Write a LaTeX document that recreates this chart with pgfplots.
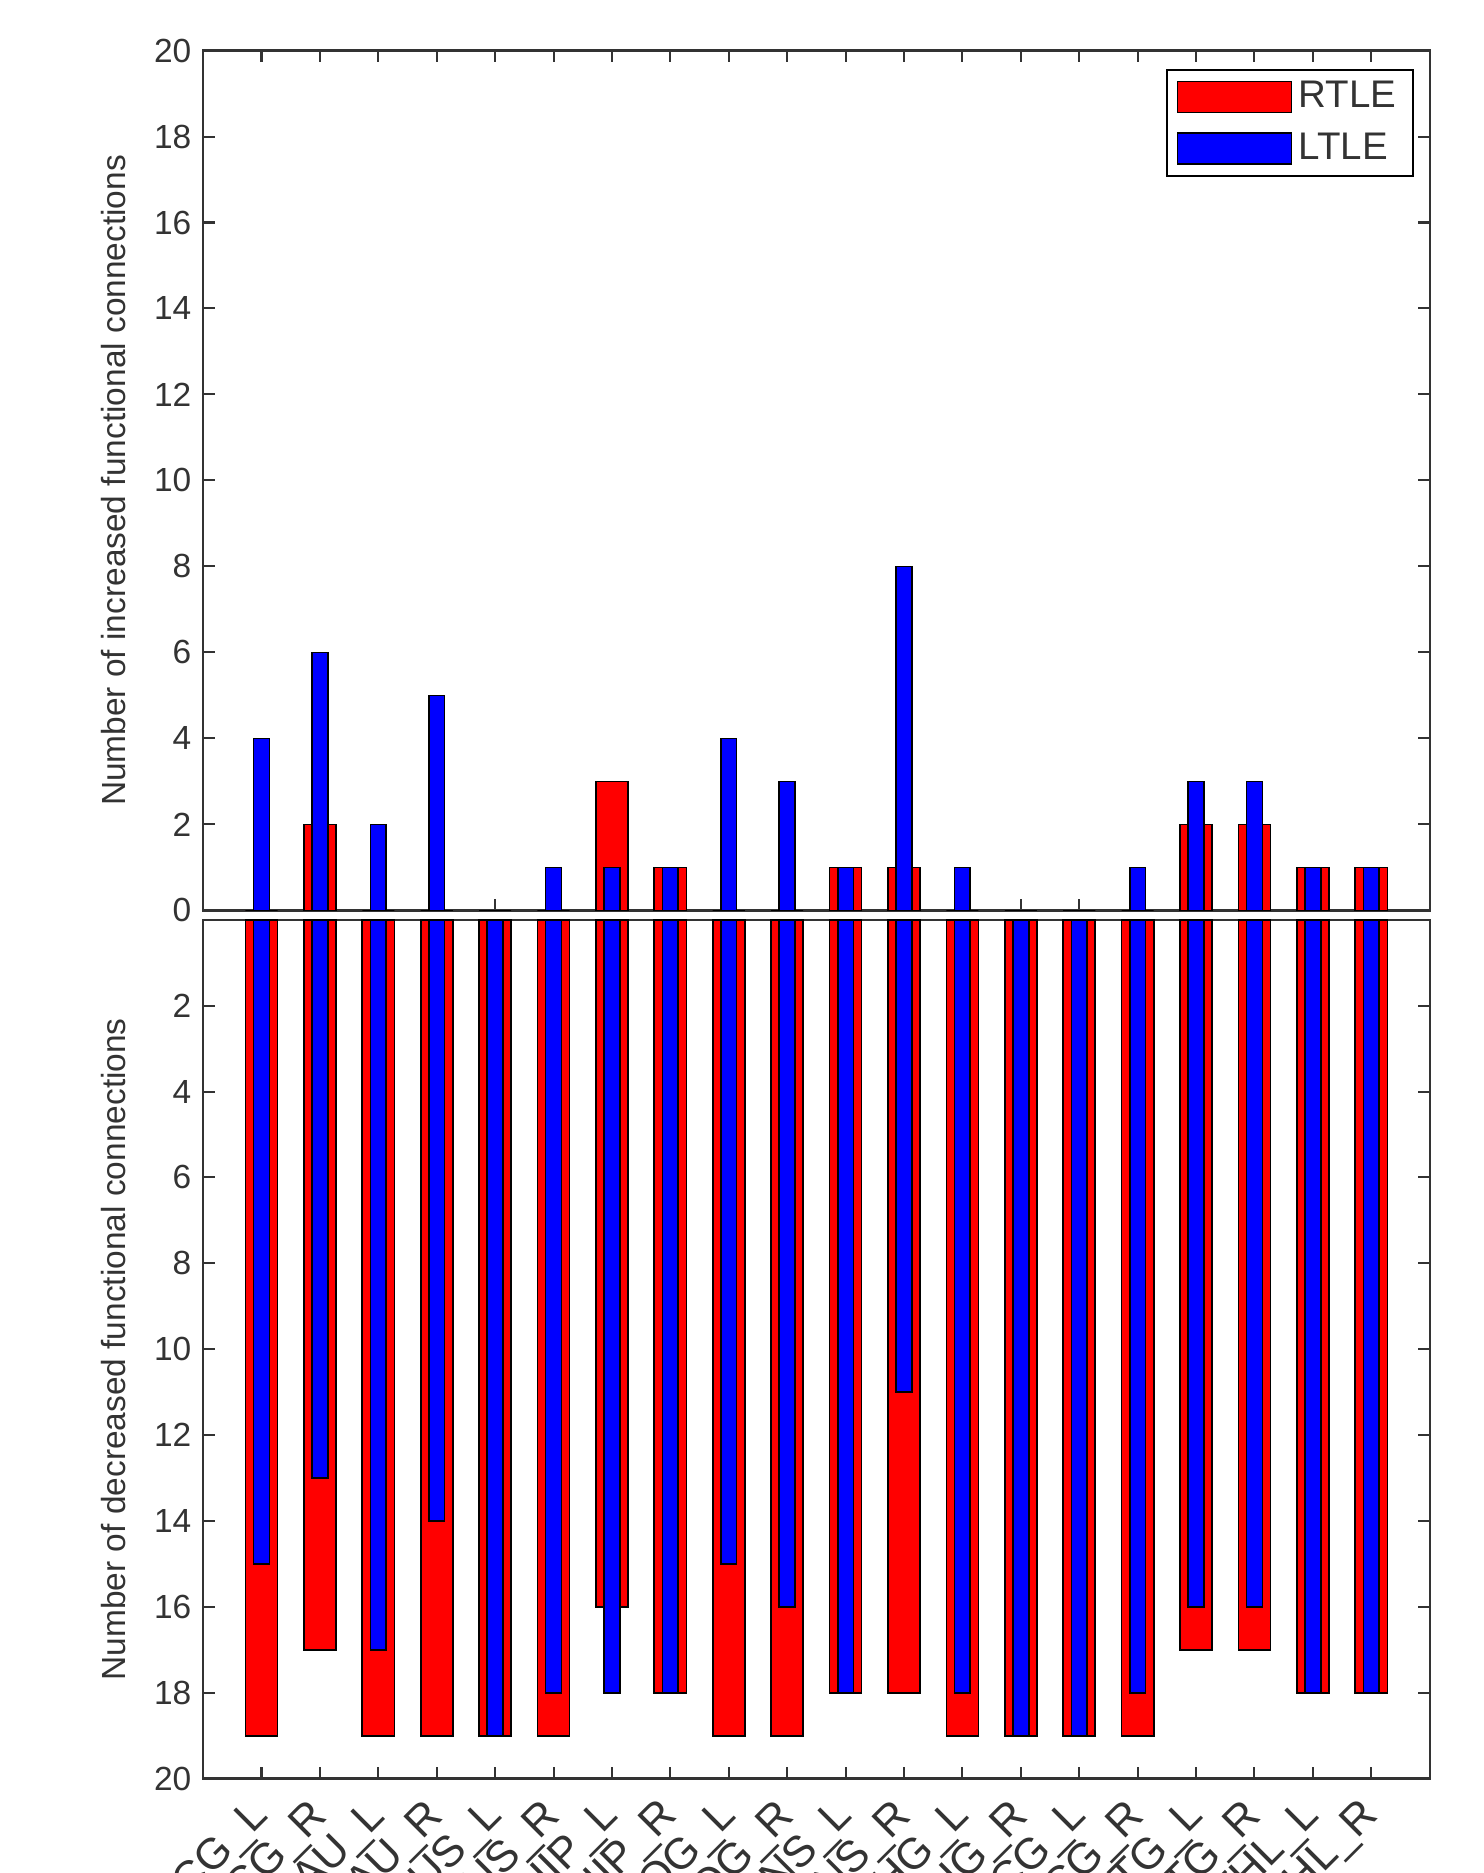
\documentclass[border=0pt]{standalone}
\usepackage{fontspec}
\setmainfont{Liberation Sans}
\usepackage{pgfplots}
\pgfplotsset{compat=1.18}
\definecolor{axgray}{RGB}{51,51,51}
\begin{document}
\begin{tikzpicture}
\pgfplotsset{
  common/.style={
    scale only axis,
    width=366.6pt,
    xmin=0, xmax=21,
    ymin=0, ymax=20,
    xtick={1,...,20},
    ytick={0,2,...,20},
    tick align=inside,
    major tick length=3.5pt,
    axis line style={axgray, line width=0.7pt},
    every tick/.style={axgray, line width=0.6pt},
    tick label style={text=axgray, font=\fontsize{10}{12}\selectfont},
    label style={text=axgray, font=\fontsize{10}{12}\selectfont},
    /pgf/number format/assume math mode=true,
    ylabel style={at={(axis description cs:-0.073,0.5)}, anchor=center},
    legend image code/.code={\draw[#1, draw=black, line width=0.5pt] (0pt,-4.6pt) rectangle (34pt,4.6pt);},
  },
}
% top axis
\begin{axis}[common,
  at={(0pt,2.8pt)}, anchor=south west,
  height=257pt,
  xticklabels={},
  ylabel={Number of increased functional connections},
  legend style={at={(1,1)}, anchor=north east, xshift=-4.6pt, yshift=-5.4pt,
    draw=black, fill=white, line width=0.6pt,
    font=\fontsize{11.5}{13}\selectfont, text=axgray,
    inner xsep=3pt, inner ysep=1.5pt, row sep=2pt,
    /tikz/every even column/.append style={column sep=0.5pt}},
  legend cell align=left,
]
\addplot[ybar, bar width=0.55, bar shift=0pt, fill=red, draw=black, line width=0.5pt]
coordinates {(1,0) (2,2) (3,0) (4,0) (5,0) (6,0) (7,3) (8,1) (9,0) (10,0)
 (11,1) (12,1) (13,0) (14,0) (15,0) (16,0) (17,2) (18,2) (19,1) (20,1)};
\addlegendentry{RTLE}
\addplot[ybar, bar width=0.27, bar shift=0pt, fill=blue, draw=black, line width=0.5pt]
coordinates {(1,4) (2,6) (3,2) (4,5) (5,0) (6,1) (7,1) (8,1) (9,4) (10,3)
 (11,1) (12,8) (13,1) (14,0) (15,0) (16,1) (17,3) (18,3) (19,1) (20,1)};
\addlegendentry{LTLE}
\end{axis}
% bottom axis
\begin{axis}[common,
  at={(0pt,0pt)}, anchor=north west,
  height=256.7pt,
  y dir=reverse,
  yticklabels={,2,4,6,8,10,12,14,16,18,20},
  xticklabels={ACG\_L,ACG\_R,CAU\_L,CAU\_R,FUS\_L,FUS\_R,HIP\_L,HIP\_R,IOG\_L,IOG\_R,INS\_L,INS\_R,PHG\_L,PHG\_R,PCG\_L,PCG\_R,STG\_L,STG\_R,THL\_L,THL\_R},
  xticklabel style={rotate=45, anchor=north east, inner sep=1pt, xshift=-5.3pt, yshift=0.2pt, font=\fontsize{13}{15}\selectfont},
  ylabel={Number of decreased functional connections},
]
\addplot[ybar, bar width=0.55, bar shift=0pt, fill=red, draw=black, line width=0.5pt]
coordinates {(1,19) (2,17) (3,19) (4,19) (5,19) (6,19) (7,16) (8,18) (9,19) (10,19)
 (11,18) (12,18) (13,19) (14,19) (15,19) (16,19) (17,17) (18,17) (19,18) (20,18)};
\addplot[ybar, bar width=0.27, bar shift=0pt, fill=blue, draw=black, line width=0.5pt]
coordinates {(1,15) (2,13) (3,17) (4,14) (5,19) (6,18) (7,18) (8,18) (9,15) (10,16)
 (11,18) (12,11) (13,18) (14,19) (15,19) (16,18) (17,16) (18,16) (19,18) (20,18)};
\end{axis}
\pgfresetboundingbox
\useasboundingbox (-60.7pt,-284.9pt) rectangle (382.7pt,274.9pt);
\end{tikzpicture}
\end{document}
